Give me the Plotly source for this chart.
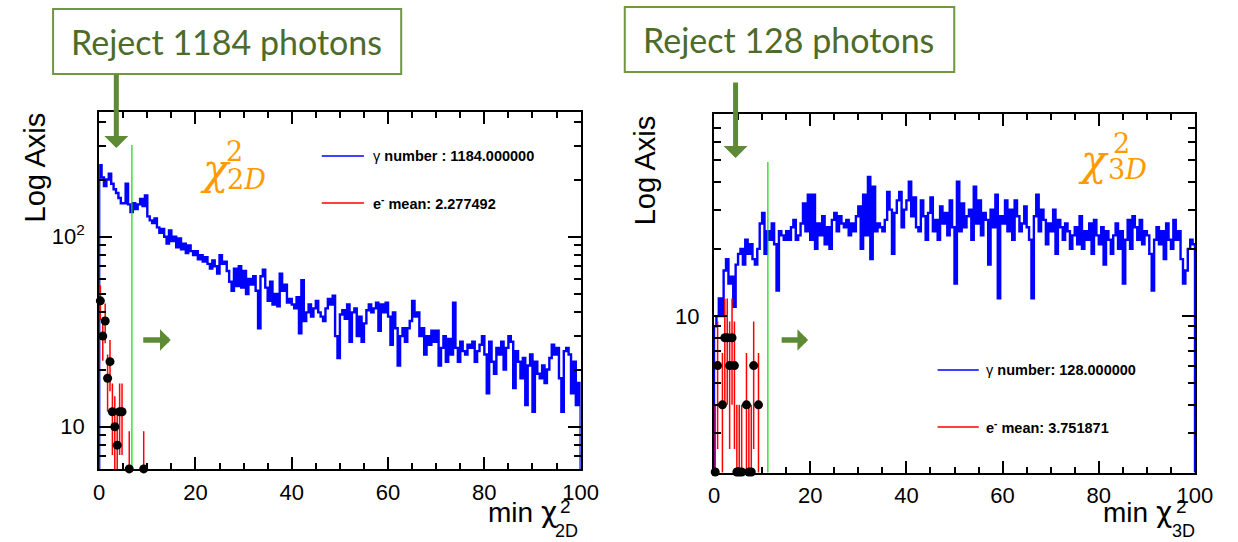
import math
import plotly.graph_objects as go

W, H = 1238, 542

# ---- histogram contents (200 bins of width 0.5 over 0..100) ----
BIN_W = 0.5

gamma_2d = [
    238, 205, 185, 200, 215, 190, 178, 170, 160, 150,
    150, 190, 148, 135, 150, 140, 148, 158, 145, 165,
    128, 122, 118, 125, 112, 105, 110, 100, 92, 108,
    95, 100, 88, 98, 86, 92, 82, 90, 84, 80,
    84, 76, 80, 74, 78, 72, 68, 75, 70, 64,
    80, 72, 74, 66, 58, 52, 68, 55, 70, 54,
    66, 50, 60, 56, 62, 52, 33, 62, 67, 54,
    46, 58, 44, 50, 43, 64, 52, 56, 45, 47,
    44, 42, 48, 31, 59, 36, 40, 44, 38, 42,
    46, 40, 38, 36, 42, 47, 44, 49, 30, 23,
    39, 41, 37, 44, 28, 40, 42, 30, 38, 28,
    35, 41, 44, 40, 42, 45, 32, 44, 40, 45,
    38, 27, 40, 33, 21, 30, 33, 28, 33, 36,
    46, 38, 40, 30, 33, 24, 30, 27, 32, 28,
    32, 21, 26, 30, 22, 29, 24, 45, 26, 22,
    28, 25, 24, 27, 26, 28, 22, 25, 27, 30,
    24, 15, 28, 22, 19, 26, 24, 28, 20, 26,
    30, 28, 16, 25, 22, 18, 23, 13, 21, 24,
    12, 22, 19, 18, 21, 17, 20, 23, 27, 24,
    26, 18, 12, 25, 26, 24, 15, 22, 13, 17,
]

electron_2d = [46, 30, 36, 18, 22, 12, 10, 8, 12, 12, 0, 0, 6, 0, 0, 0, 0, 0, 6]

gamma_3d = [
    9, 10, 12, 10, 16, 18, 14, 15, 11, 17,
    19, 20, 17, 22, 19, 21, 18, 17, 20, 26,
    29, 19, 24, 22, 26, 21, 13, 24, 23, 22,
    24, 22, 25, 27, 22, 23, 26, 32, 24, 35,
    22, 35, 20, 26, 23, 28, 21, 25, 20, 27,
    29, 24, 28, 26, 25, 27, 23, 26, 24, 28,
    31, 20, 35, 23, 42, 18, 38, 24, 26, 25,
    24, 27, 36, 30, 19, 29, 33, 36, 25, 30,
    33, 40, 28, 34, 25, 24, 33, 28, 22, 29,
    34, 24, 27, 22, 31, 26, 29, 23, 33, 25,
    14, 40, 24, 32, 25, 28, 30, 22, 38, 26,
    33, 23, 29, 27, 17, 30, 25, 35, 12, 28,
    26, 33, 24, 30, 22, 33, 28, 24, 26, 31,
    25, 22, 12, 28, 35, 24, 30, 27, 21, 26,
    24, 30, 19, 27, 25, 22, 26, 24, 20, 23,
    25, 21, 28, 20, 24, 22, 26, 19, 27, 23,
    21, 25, 17, 24, 22, 19, 23, 26, 20, 24,
    14, 22, 27, 20, 28, 25, 22, 27, 21, 24,
    23, 19, 13, 22, 25, 21, 24, 18, 26, 22,
    20, 27, 22, 24, 18, 14, 16, 20, 22, 21,
]

electron_3d = [2, 6, 0, 4, 8, 8, 6, 8, 6, 2, 2, 2, 0, 4, 2, 2, 6, 0, 4, 0]

# event weight of the electron sample (errors are sqrt(sum w^2))
E_WEIGHT = 2

# cut positions and the top of the drawn cut lines
cut_2d, cut_2d_top = 6.8, 304
cut_3d, cut_3d_top = 11.2, 49

y_range_2d = (5.97, 452)
y_range_3d = (1.99, 80.5)

x_ticks = [0, 20, 40, 60, 80, 100]

legend_2d = ["γ <b>number : 1184.000000</b>", "<b>e<sup>-</sup> mean: 2.277492</b>"]
legend_3d = ["γ <b>number: 128.000000</b>", "<b>e<sup>-</sup> mean: 3.751871</b>"]
box_text = ["Reject 1184 photons", "Reject 128 photons"]

BLUE, RED, CUTGREEN = "#0000ff", "#ff0000", "#00e000"
BOX_GREEN, TEXT_GREEN, ARROW_GREEN = "#70983f", "#4d6b2a", "#5e8a35"
ORANGE = "#ff9a00"
AXFONT = "Liberation Sans"
MATHFONT = "DejaVu Serif"


def px(x):
    return x / W


def py(y):
    return 1 - y / H


def step_xy(vals, ymin):
    xs = [0.0] + [i * BIN_W for i in range(len(vals) + 1)] + [len(vals) * BIN_W]
    ys = [ymin] + list(vals) + [vals[-1], ymin]
    return xs, ys


fig = go.Figure()


def add_panel(gamma, electron, cut, cut_top, yr, xa, ya):
    xs, ys = step_xy(gamma, yr[0] * 0.9)
    fig.add_trace(go.Scatter(x=xs, y=ys, mode="lines", line=dict(color=BLUE, width=2.4, shape="hv"),
                             xaxis=xa, yaxis=ya, showlegend=False, hoverinfo="skip"))
    ex = [(i + 0.5) * BIN_W for i, v in enumerate(electron) if v > 0]
    ev = [v for v in electron if v > 0]
    ee = [math.sqrt(E_WEIGHT * v) for v in ev]
    fig.add_trace(go.Scatter(x=ex, y=ev, mode="markers", marker=dict(size=1, color=RED, opacity=0),
                             error_y=dict(type="data", array=ee, color=RED, thickness=1.5, width=0),
                             error_x=dict(type="constant", value=BIN_W / 2, color=RED, thickness=2, width=0),
                             xaxis=xa, yaxis=ya, showlegend=False, hoverinfo="skip"))
    fig.add_trace(go.Scatter(x=[cut, cut], y=[cut_top, yr[0] * 0.9], mode="lines",
                             line=dict(color=CUTGREEN, width=1.2), xaxis=xa, yaxis=ya,
                             showlegend=False, hoverinfo="skip"))
    fig.add_trace(go.Scatter(x=ex, y=ev, mode="markers", marker=dict(size=9, color="black"),
                             cliponaxis=False, xaxis=xa, yaxis=ya, showlegend=False, hoverinfo="skip"))


add_panel(gamma_2d, electron_2d, cut_2d, cut_2d_top, y_range_2d, "x", "y")
add_panel(gamma_3d, electron_3d, cut_3d, cut_3d_top, y_range_3d, "x2", "y2")


def xaxis_cfg(domain, anchor):
    return dict(domain=domain, anchor=anchor, range=[0, 100], tickvals=x_ticks,
                ticktext=[str(t) for t in x_ticks], ticks="inside", ticklen=12, tickwidth=1.5,
                tickcolor="black", showline=True, linecolor="black", linewidth=2, mirror="ticks",
                showgrid=False, zeroline=False, tickfont=dict(family=AXFONT, size=22, color="black"),
                ticklabelstandoff=2,
                minor=dict(ticks="inside", dtick=5, ticklen=6, tickwidth=1.5, tickcolor="black"))


def yaxis_cfg(domain, anchor, yr, major, labels, minor):
    return dict(domain=domain, anchor=anchor, type="log",
                range=[math.log10(yr[0]), math.log10(yr[1])], tickvals=major, ticktext=labels,
                ticks="inside", ticklen=13, tickwidth=1.5, tickcolor="black", showline=True,
                linecolor="black", linewidth=2, mirror="ticks", showgrid=False, zeroline=False,
                tickfont=dict(family=AXFONT, size=22, color="black"), ticklabelstandoff=8,
                minor=dict(ticks="inside", tickvals=minor, ticklen=7, tickwidth=1.5, tickcolor="black"))


minor_2d = [6, 7, 8, 9, 20, 30, 40, 50, 60, 70, 80, 90, 200, 300, 400]
minor_3d = [3, 4, 5, 6, 7, 8, 9, 20, 30, 40, 50, 60, 70, 80]

fig.update_layout(
    width=W, height=H, margin=dict(l=0, r=0, t=0, b=0),
    paper_bgcolor="white", plot_bgcolor="white", showlegend=False,
    xaxis=xaxis_cfg([px(95), px(586)], "y"),
    yaxis=yaxis_cfg([py(469.3), py(112.3)], "x", y_range_2d, [10, 100], ["10", "10<sup>2</sup>"], minor_2d),
    xaxis2=xaxis_cfg([px(722), px(1212.5)], "y2"),
    yaxis2=yaxis_cfg([py(472.5), py(114)], "x2", y_range_3d, [10], ["10"], minor_3d),
)

shapes = []
ann = []

# annotation boxes with the rejected counts
for (x0, y0, x1, y1), txt in zip([(48, 9, 403, 74), (631, 7, 967, 72)], box_text):
    shapes.append(dict(type="rect", xref="paper", yref="paper", x0=px(x0), x1=px(x1), y0=py(y1), y1=py(y0),
                       line=dict(color=BOX_GREEN, width=2), fillcolor="white"))
    ann.append(dict(x=px((x0 + x1) / 2 - 1), y=py((y0 + y1) / 2), xref="paper", yref="paper", text=txt,
                    showarrow=False, xanchor="center", yanchor="middle",
                    font=dict(family="Lato", size=34, color=TEXT_GREEN)))

# arrows pointing at the cut (tail offsets in pixels)
for x, y0, y1 in [(112.5, 73, 148), (744, 81, 158)]:
    ann.append(dict(x=px(x), y=py(y1), ax=0, ay=y0 - y1, xref="paper", yref="paper",
                    text="", showarrow=True, arrowhead=1, arrowsize=0.8, arrowwidth=5,
                    arrowcolor=ARROW_GREEN, standoff=0))
for x0, x1, y in [(139, 168, 340), (790, 818, 340)]:
    ann.append(dict(x=px(x1), y=py(y), ax=x0 - x1, ay=0, xref="paper", yref="paper",
                    text="", showarrow=True, arrowhead=1, arrowsize=0.65, arrowwidth=5.5,
                    arrowcolor=ARROW_GREEN, standoff=0))

# legends
for (lx0, lx1, ly_b, ly_r, tx), texts in zip([(322, 365, 156, 203, 372), (950, 992, 370, 427, 997)],
                                              [legend_2d, legend_3d]):
    for ly, col, t in [(ly_b, BLUE, texts[0]), (ly_r, RED, texts[1])]:
        shapes.append(dict(type="line", xref="paper", yref="paper", x0=px(lx0), x1=px(lx1), y0=py(ly), y1=py(ly),
                           line=dict(color=col, width=1.5)))
        ann.append(dict(x=px(tx), y=py(ly), xref="paper", yref="paper", text=t, showarrow=False,
                        xanchor="left", yanchor="middle", font=dict(family=AXFONT, size=14.5, color="black")))

# orange chi^2 labels (symbol, stacked superscript and subscript)
for cx, cy, sx, sy, bx, by, sub in [(214, 170, 222, 151, 223, 180, "2D"), (1109, 160, 1127, 144, 1122, 169, "3D")]:
    ann.append(dict(x=px(cx), y=py(cy), xref="paper", yref="paper", text="<i>χ</i>", showarrow=False,
                    xanchor="center", yanchor="middle", font=dict(family=MATHFONT, size=42, color=ORANGE)))
    ann.append(dict(x=px(sx), y=py(sy), xref="paper", yref="paper", text="2", showarrow=False,
                    xanchor="left", yanchor="middle", font=dict(family=MATHFONT, size=27, color=ORANGE)))
    ann.append(dict(x=px(bx), y=py(by), xref="paper", yref="paper", text="2<i>D</i>" if sub == "2D" else "3<i>D</i>",
                    showarrow=False, xanchor="left", yanchor="middle",
                    font=dict(family=MATHFONT, size=27, color=ORANGE)))

# axis titles
for x, y in [(30, 167), (652, 170)]:
    ann.append(dict(x=px(x), y=py(y), xref="paper", yref="paper", text="Log Axis", showarrow=False,
                    textangle=-90, xanchor="center", yanchor="middle",
                    font=dict(family=AXFONT, size=29, color="black")))
for xr, sup_x, sub_x, sub in [(564, 571, 572, "2D"), (1191, 1199, 1201, "3D")]:
    ann.append(dict(x=px(xr), y=py(512), xref="paper", yref="paper",
                    text="min <span style='font-family:DejaVu Sans'>χ</span>", showarrow=False,
                    xanchor="right", yanchor="middle", font=dict(family=AXFONT, size=28, color="black")))
    ann.append(dict(x=px(sup_x), y=py(506), xref="paper", yref="paper", text="2", showarrow=False,
                    xanchor="center", yanchor="middle", font=dict(family=AXFONT, size=19, color="black")))
    ann.append(dict(x=px(sub_x), y=py(531), xref="paper", yref="paper", text=sub, showarrow=False,
                    xanchor="center", yanchor="middle", font=dict(family=AXFONT, size=18, color="black")))

fig.update_layout(shapes=shapes, annotations=ann)
fig.write_html("out.html")
